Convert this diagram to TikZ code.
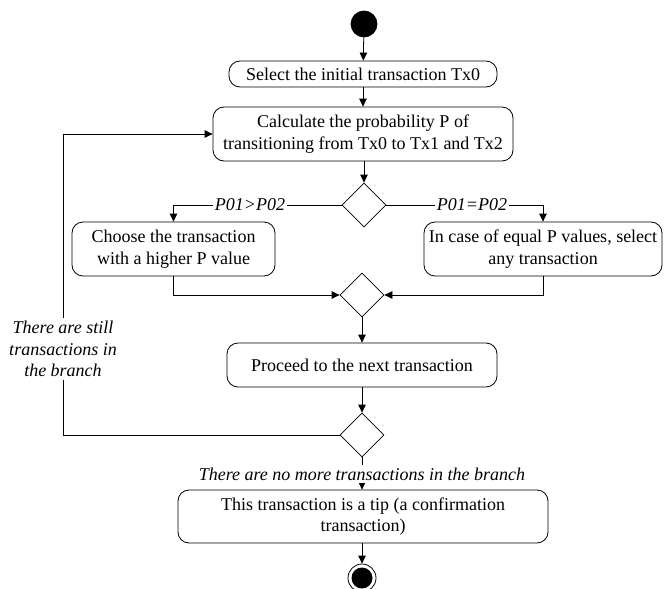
\documentclass[tikz,border=0pt]{standalone}
\usepackage{fontspec}
\setmainfont{Liberation Serif}
\usetikzlibrary{arrows.meta,shapes.geometric}
\begin{document}
\begin{tikzpicture}[x=1pt,y=-1pt,
  line width=0.8pt,
  txt/.style={font=\fontsize{18}{21.5}\selectfont},
  act/.style={txt, draw, rounded corners=11pt, align=center, inner sep=0pt, fill=white},
  decision/.style={draw, diamond, aspect=1, inner sep=0pt, minimum width=44pt, minimum height=44pt, fill=white},
  guard/.style={txt, font=\fontsize{18}{21.5}\selectfont\itshape, fill=white, inner xsep=1.5pt, inner ysep=3pt, align=center},
  arr/.style={-{Triangle[length=8pt,width=7.5pt]}},
  initial/.style={circle, fill=black, draw=black, minimum size=26pt, inner sep=0pt},
  final/.style={circle, draw=black, line width=0.8pt, minimum size=28pt, inner sep=0pt,
    path picture={\fill[black] (path picture bounding box.center) circle (10.5pt);}}]
\useasboundingbox (0,0) rectangle (664,589);

% activity nodes
\node[initial] (start) at (364,24) {};
\node[act, minimum width=268pt, minimum height=26pt] (sel) at (363,74) {Select the initial transaction Tx0};
\node[act, minimum width=300pt, minimum height=54pt] (calc) at (363,134)
  {Calculate the probability P of\\transitioning from Tx0 to Tx1 and Tx2};
\node[decision] (d1) at (364,205) {};
\node[act, minimum width=203pt, minimum height=54pt] (choose) at (173.5,249)
  {Choose the transaction\\with a higher P value};
\node[act, minimum width=238pt, minimum height=54pt] (any) at (543,249)
  {In case of equal P values, select\\any transaction};
\node[decision] (d2) at (362,295) {};
\node[act, minimum width=270pt, minimum height=44pt] (next) at (362,365)
  {Proceed to the next transaction};
\node[decision] (d3) at (362,435) {};
\node[act, minimum width=370pt, minimum height=53pt] (tip) at (363,516.5)
  {This transaction is a tip (a confirmation\\transaction)};
\node[final] (end) at (362,578) {};
\coordinate (loopx) at (63,0);

% control flow
\draw[arr] (start) -- (sel);
\draw[arr] (sel) -- (calc);
\draw[arr] (calc.south -| d1) -- (d1.north);
\draw[arr] (d1.west) -| (choose.north);
\draw[arr] (d1.east) -| (any.north);
\draw[arr] (choose.south) |- (d2.west);
\draw[arr] (any.south) |- (d2.east);
\draw[arr] (d2.south) -- (next.north -| d2);
\draw[arr] (next.south -| d3) -- (d3.north);
\draw[arr] (d3.west) -- (d3.west -| loopx) -- (calc.west -| loopx) -- (calc.west);
\draw[arr] (d3.south) -- (tip.north -| d3);
\draw[arr] (tip.south -| end) -- (end.north);

% guards
\node[guard] (g1) at (250,205) {P01>P02};
\node[guard] (g2) at (472,205) {P01=P02};
\node[guard] (g3) at (63,349) {There are still\\transactions in\\the branch};
\node[guard] (g4) at (362,474) {There are no more transactions in the branch};
\end{tikzpicture}
\end{document}
